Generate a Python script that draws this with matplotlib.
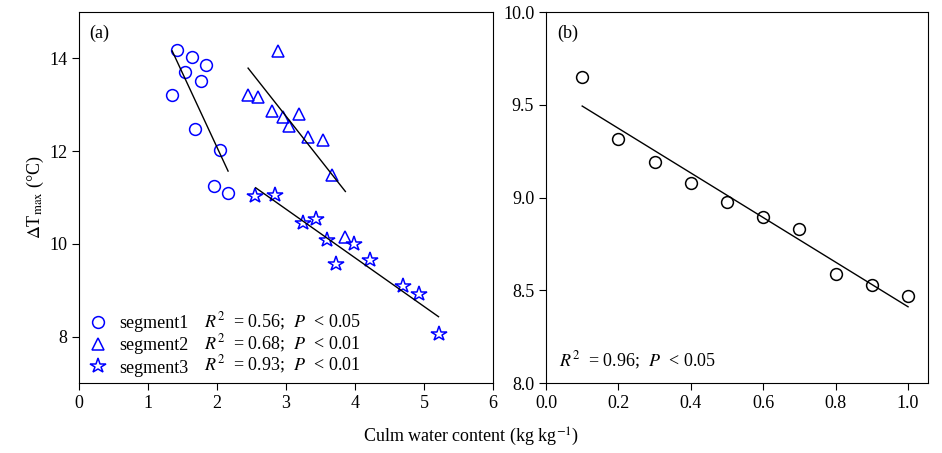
import numpy as np
import matplotlib
matplotlib.use('Agg')
import matplotlib.pyplot as plt
from matplotlib.lines import Line2D

plt.rcParams['font.family'] = ['Liberation Serif', 'DejaVu Serif']
plt.rcParams['mathtext.fontset'] = 'stix'

# panel (a) data
seg1_x = [1.42, 1.63, 1.84, 1.53, 1.77, 1.35, 1.68, 2.05, 1.96, 2.16]
seg1_y = [14.19, 14.03, 13.86, 13.71, 13.52, 13.21, 12.48, 12.03, 11.25, 11.09]
seg2_x = [2.88, 2.45, 2.60, 2.79, 2.96, 3.04, 3.19, 3.32, 3.54, 3.67, 3.86]
seg2_y = [14.16, 13.20, 13.16, 12.87, 12.73, 12.55, 12.81, 12.30, 12.25, 11.49, 10.15]
seg3_x = [2.55, 2.84, 3.25, 3.43, 3.59, 3.99, 3.73, 4.22, 4.70, 4.93, 5.21]
seg3_y = [11.04, 11.06, 10.44, 10.53, 10.08, 9.99, 9.56, 9.66, 9.09, 8.92, 8.06]

# fitted lines (end points)
fit1_x, fit1_y = [1.35, 2.16], [14.16, 11.57]
fit2_x, fit2_y = [2.45, 3.86], [13.79, 11.13]
fit3_x, fit3_y = [2.56, 5.21], [11.21, 8.43]

stats_a = ['0.56', '0.68', '0.93']
p_a = ['0.05', '0.01', '0.01']
seg_labels = ['segment1', 'segment2', 'segment3']

# panel (b) data
b_x = [0.1, 0.2, 0.3, 0.4, 0.5, 0.6, 0.7, 0.8, 0.9, 1.0]
b_y = [9.651, 9.315, 9.190, 9.080, 8.977, 8.895, 8.830, 8.586, 8.527, 8.471]
fitb_x, fitb_y = [0.1, 1.0], [9.493, 8.411]

blue = '#0000ff'
fs = 13

fig = plt.figure(figsize=(9.42, 4.53), dpi=100)
ax1 = fig.add_axes([0.0839, 0.1545, 0.4395, 0.819])
ax2 = fig.add_axes([0.5796, 0.1545, 0.4055, 0.819])

ms = 8.5
mk = dict(linestyle='none', markerfacecolor='none', markeredgecolor=blue, markeredgewidth=1.1)
ax1.plot(seg1_x, seg1_y, marker='o', markersize=ms, **mk)
ax1.plot(seg2_x, seg2_y, marker='^', markersize=ms, **mk)
ax1.plot(seg3_x, seg3_y, marker='*', markersize=ms + 3, **mk)
for fx, fy in [(fit1_x, fit1_y), (fit2_x, fit2_y), (fit3_x, fit3_y)]:
    ax1.plot(fx, fy, color='black', linewidth=1)

ax1.set_xlim(0, 6)
ax1.set_ylim(7, 15)
ax1.set_xticks(range(0, 7))
ax1.set_yticks([8, 10, 12, 14])
ax1.tick_params(direction='out', labelsize=fs, length=5)
ax1.set_ylabel(r'$\Delta$T$_{\rm max}$ (°C)', fontsize=fs, labelpad=2)
ax1.text(0.025, 0.965, '(a)', transform=ax1.transAxes, fontsize=fs, va='top')

handles = [Line2D([], [], marker=m, markersize=s, **mk)
           for m, s in [('o', ms), ('^', ms), ('*', ms + 3)]]
ax1.legend(handles, seg_labels, loc='lower left', bbox_to_anchor=(-0.012, -0.017),
           frameon=False, fontsize=fs, handlelength=1.2, handletextpad=0.6,
           labelspacing=0.3, borderaxespad=0.3)
for i, (r, p) in enumerate(zip(stats_a, p_a)):
    ax1.text(0.303, 0.164 - i * 0.058,
             r'$R^2$  = %s;  $P$  < %s' % (r, p),
             transform=ax1.transAxes, fontsize=fs, va='center')

ax2.plot(b_x, b_y, marker='o', markersize=ms, linestyle='none',
         markerfacecolor='none', markeredgecolor='black', markeredgewidth=1.1)
ax2.plot(fitb_x, fitb_y, color='black', linewidth=1)
ax2.set_xlim(0, 1.055)
ax2.set_ylim(8, 10)
ax2.set_xticks([0.0, 0.2, 0.4, 0.6, 0.8, 1.0])
ax2.set_yticks([8.0, 8.5, 9.0, 9.5, 10.0])
ax2.xaxis.set_major_formatter(plt.FormatStrFormatter('%.1f'))
ax2.yaxis.set_major_formatter(plt.FormatStrFormatter('%.1f'))
ax2.tick_params(direction='out', labelsize=fs, length=5)
ax2.text(0.03, 0.965, '(b)', transform=ax2.transAxes, fontsize=fs, va='top')
ax2.text(0.035, 0.06, r'$R^2$  = 0.96;  $P$  < 0.05', transform=ax2.transAxes,
         fontsize=fs, va='center')

fig.text(0.5, 0.035, 'Culm water content (kg kg$^{-1}$)', ha='center', va='center', fontsize=fs)

fig.savefig('out.png', dpi=100)
